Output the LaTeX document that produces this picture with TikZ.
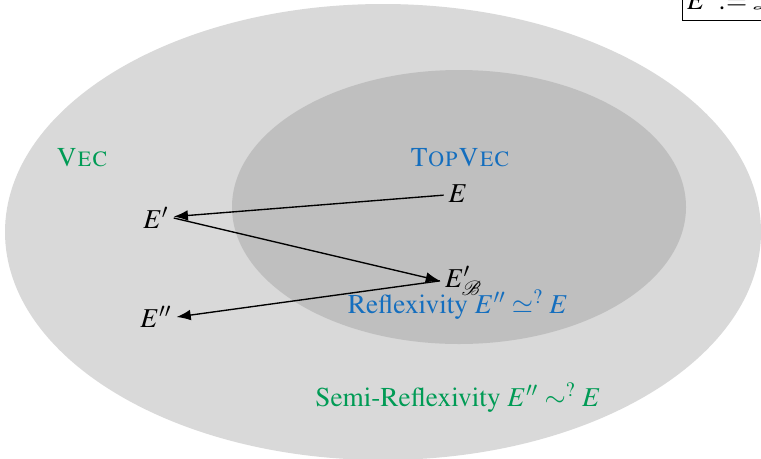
\documentclass[tikz,border=0pt]{standalone}
\usepackage[T1]{fontenc}
\usepackage{mathptmx}
\usepackage{mathrsfs}
\usepackage{amsmath,amssymb}
\usetikzlibrary{arrows.meta,positioning}
\definecolor{vecgreen}{RGB}{0,155,85}
\definecolor{topblue}{RGB}{20,110,190}
\tikzset{
  outerset/.style={fill=gray!30, draw=none},
  innerset/.style={fill=gray!50, draw=none},
  space/.style={inner sep=2pt, font=\large},
  catname/.style={font=\large},
  map/.style={-{Latex[length=2.2mm]}, semithick}
}

\begin{document}
\begin{tikzpicture}[x=0.44pt, y=-0.44pt]
    \useasboundingbox (0,0) rectangle (761,458);
    \clip (0,0) rectangle (761,458);

    %% categories
    \fill[outerset] (383,232) ellipse [x radius=378, y radius=228];
    \fill[innerset] (459,207) ellipse [x radius=227, y radius=137];
    \node[catname, text=vecgreen] (vec) at (82,157) {\textsc{Vec}};
    \node[catname, text=topblue] (topvec) at (460,157) {\textsc{TopVec}};

    %% spaces
    \node[space] (E)   at (458,194) {$E$};
    \node[space] (Ep)  at (156,218) {$E'$};
    \node[space, anchor=base west] (EpB) at (440,287) {$E'_{\mathscr{B}}$};
    \node[space] (Epp) at (156,317) {$E''$};

    \draw[map] (E) -- (Ep);
    \draw[map] (Ep.east) -- (EpB.west);
    \draw[map] (EpB.west) -- (Epp.east);

    %% properties
    \node[catname, text=topblue] (refl) at (458,305)
         {Reflexivity $E''\simeq^{?}E$};
    \node[catname, text=vecgreen] (semi) at (458,398)
         {Semi-Reflexivity $E''\sim^{?}E$};

    \node[draw, anchor=south west, inner sep=2pt, font=\large] (dual) at (682,21)
         {$E':=\mathscr{L}_b(E,\mathbb{K})$};
\end{tikzpicture}
\end{document}
